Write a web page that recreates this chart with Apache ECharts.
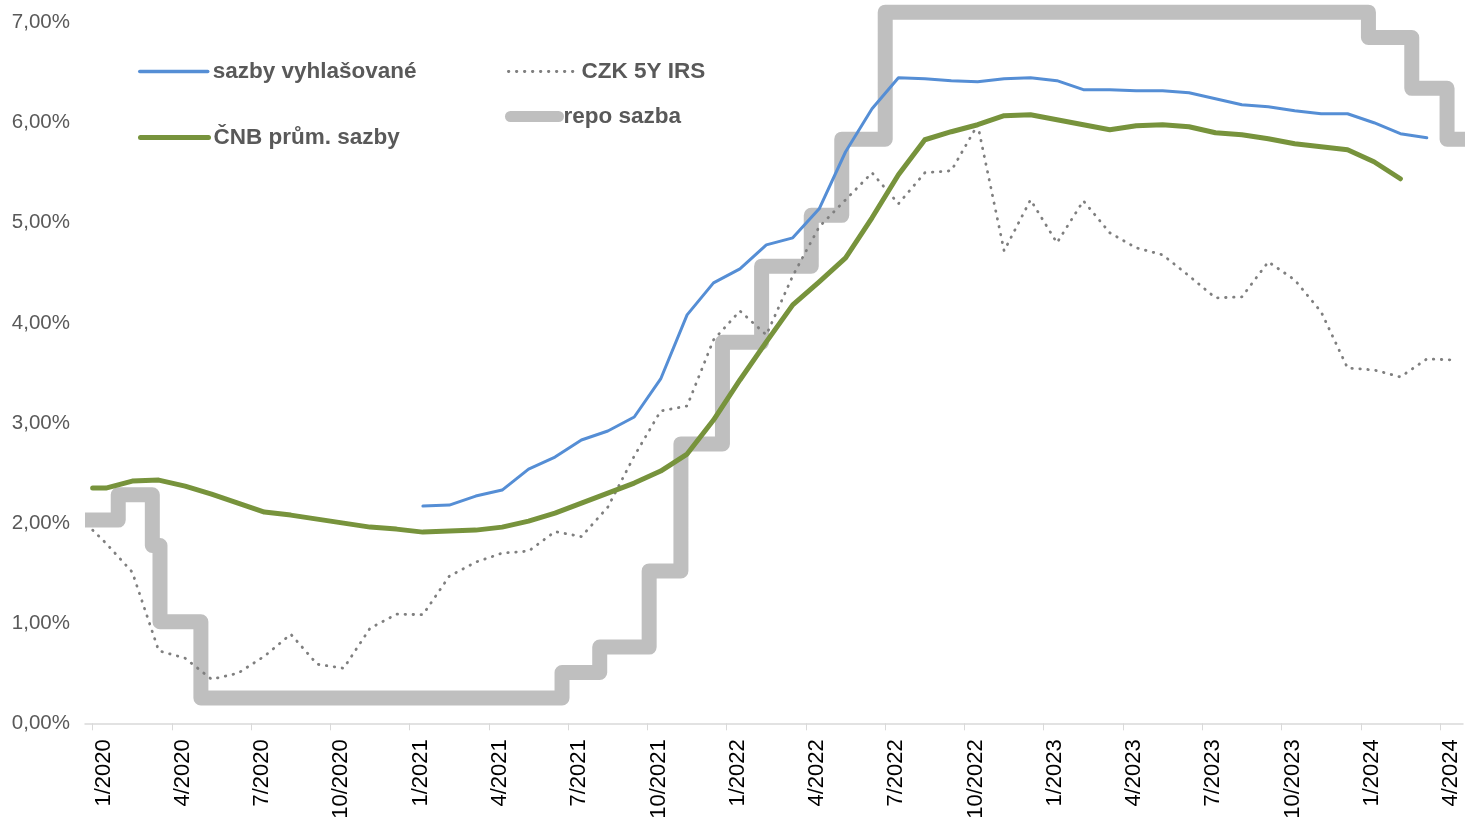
<!DOCTYPE html>
<html>
<head>
<meta charset="utf-8">
<script src="https://cdn.jsdelivr.net/npm/echarts@6/dist/echarts.min.js"></script>
<style>
  html, body { margin: 0; padding: 0; background: #fff; }
  #chartContainer { width: 1465px; height: 818px; }
</style>
</head>
<body>
<div id="chartContainer"></div>
<script>
// values in %, monthly series are mid-month observations
var irsFirstDay = 1.93; // 1.1.2020
var irsStart = '2020-01';
var irsMonthly = [1.80, 1.51, 0.725, 0.65, 0.44, 0.50, 0.67, 0.89, 0.59, 0.55, 0.95, 1.09,
  1.085, 1.47, 1.61, 1.70, 1.72, 1.915, 1.865, 2.16, 2.67, 3.12, 3.17, 3.83,
  4.12, 3.88, 4.47, 4.96, 5.23, 5.50, 5.19, 5.50, 5.52, 5.98, 4.72, 5.23,
  4.80, 5.22, 4.90, 4.75, 4.68, 4.47, 4.25, 4.26, 4.61, 4.43, 4.11, 3.55,
  3.53, 3.46, 3.64, 3.63];

var cnbFirstDay = 2.35; // 1.1.2020
var cnbStart = '2020-01';
var cnbMonthly = [2.35, 2.42, 2.43, 2.37, 2.29, 2.20, 2.11, 2.08, 2.04, 2.00, 1.96, 1.94,
  1.91, 1.92, 1.93, 1.96, 2.02, 2.10, 2.20, 2.30, 2.40, 2.52, 2.69, 3.03,
  3.43, 3.81, 4.18, 4.41, 4.65, 5.05, 5.48, 5.83, 5.91, 5.98, 6.07, 6.08,
  6.03, 5.98, 5.93, 5.97, 5.98, 5.96, 5.90, 5.88, 5.84, 5.79, 5.76, 5.73,
  5.61, 5.44];

var announcedStart = '2021-01';
var announcedMonthly = [2.17, 2.18, 2.27, 2.33, 2.54, 2.66, 2.83, 2.92, 3.06, 3.44, 4.08, 4.40,
  4.54, 4.78, 4.85, 5.14, 5.71, 6.14, 6.45, 6.44, 6.42, 6.41, 6.44, 6.45,
  6.42, 6.33, 6.33, 6.32, 6.32, 6.30, 6.24, 6.18, 6.16, 6.12, 6.09, 6.09,
  6.00, 5.89, 5.85];

// repo rate: date of change, new rate (first entry = start of the plotted range)
var repoDates = ['2019-12-23', '2020-01-31', '2020-03-09', '2020-03-18', '2020-05-04',
  '2021-06-24', '2021-08-07', '2021-10-03', '2021-11-09', '2021-12-27',
  '2022-02-10', '2022-04-07', '2022-05-12', '2022-07-01',
  '2024-01-10', '2024-02-28', '2024-04-09', '2024-05-31'];
var repoRates = [2.00, 2.25, 1.75, 1.00, 0.25,
  0.50, 0.75, 1.50, 2.75, 3.75,
  4.50, 5.00, 5.75, 7.00,
  6.75, 6.25, 5.75, 5.75];

var tickMonths = ['2020-01', '2020-04', '2020-07', '2020-10', '2021-01', '2021-04', '2021-07',
  '2021-10', '2022-01', '2022-04', '2022-07', '2022-10', '2023-01', '2023-04', '2023-07',
  '2023-10', '2024-01', '2024-04'];

var FONT = "'Liberation Sans', Arial, sans-serif";

// position on the x axis in months since 1/2020
function monthPos(s) {
  var p = s.split('-');
  var y = +p[0], mo = +p[1], d = p[2] ? +p[2] : 1;
  var dim = new Date(y, mo, 0).getDate();
  return (y - 2020) * 12 + (mo - 1) + (d - 1) / dim;
}

function monthlyData(start, values, firstDay) {
  var base = monthPos(start);
  var out = [];
  if (firstDay != null) out.push([base, firstDay]);
  values.forEach(function (v, i) { out.push([base + i + 0.5, v]); });
  return out;
}

var repoData = repoDates.map(function (d, i) { return [monthPos(d), repoRates[i]]; });
var tickPos = tickMonths.map(monthPos);

function legendBox(name, left, top, width, lineStyle) {
  return {
    data: [{ name: name, lineStyle: lineStyle }],
    left: left,
    top: top,
    orient: 'horizontal',
    padding: 0,
    itemWidth: width,
    itemHeight: 22,
    selectedMode: false,
    itemStyle: { opacity: 0 },
    textStyle: { fontSize: 22.5, fontWeight: 'bold', color: '#595959', fontFamily: FONT }
  };
}

var chart = echarts.init(document.getElementById('chartContainer'));

chart.setOption({
  animation: false,
  grid: { left: 85, right: 2, top: 2.6, bottom: 94.7, outerBoundsMode: 'none', containLabel: false },
  legend: [
    legendBox('sazby vyhlašované', 138, 60, 68, { width: 3.5, cap: 'round', color: '#558ED5' }),
    legendBox('ČNB prům. sazby', 138, 126, 68, { width: 5, cap: 'round', color: '#77933C' }),
    legendBox('CZK 5Y IRS', 507, 60, 68, { width: 2.8, type: [0.5, 7.5], cap: 'round', color: '#7F7F7F' }),
    legendBox('repo sazba', 505, 105, 48, { width: 11, cap: 'round', color: '#BFBFBF' })
  ],
  xAxis: {
    type: 'value',
    min: -0.29,
    max: 51.87,
    splitLine: { show: false },
    axisLine: { show: true, onZero: false, lineStyle: { color: '#D9D9D9', width: 1.5 } },
    axisTick: { show: true, length: 7, customValues: tickPos, lineStyle: { color: '#D9D9D9', width: 1 } },
    axisLabel: {
      customValues: tickPos,
      rotate: 90,
      margin: 16,
      verticalAlign: 'top',
      fontSize: 22,
      color: '#000',
      fontFamily: FONT,
      formatter: function (v) {
        var m = Math.round(v);
        return (((m % 12) + 12) % 12 + 1) + '/' + (2020 + Math.floor(m / 12));
      }
    }
  },
  yAxis: [{
    type: 'value',
    min: 0,
    max: 7.2,
    interval: 1,
    splitLine: { show: false },
    axisLine: { show: false },
    axisTick: { show: false },
    axisLabel: {
      margin: 15,
      fontSize: 20.5,
      color: '#595959',
      fontFamily: FONT,
      formatter: function (v) {
        return Math.abs(v - Math.round(v)) < 1e-6 ? v.toFixed(2).replace('.', ',') + '%' : '';
      }
    }
  }, {
    type: 'value',
    min: 0,
    max: 7.094,
    show: false
  }],
  series: [{
    name: 'repo sazba',
    type: 'line',
    yAxisIndex: 1,
    step: 'end',
    symbol: 'none',
    data: repoData,
    lineStyle: { color: '#BFBFBF', width: 15, join: 'round' },
    z: 1
  }, {
    name: 'CZK 5Y IRS',
    type: 'line',
    symbol: 'none',
    data: monthlyData(irsStart, irsMonthly, irsFirstDay),
    lineStyle: { color: '#7F7F7F', width: 2.8, type: [0.5, 7.5], cap: 'round' },
    z: 2
  }, {
    name: 'ČNB prům. sazby',
    type: 'line',
    symbol: 'none',
    data: monthlyData(cnbStart, cnbMonthly, cnbFirstDay),
    lineStyle: { color: '#77933C', width: 5, join: 'round', cap: 'round' },
    z: 3
  }, {
    name: 'sazby vyhlašované',
    type: 'line',
    symbol: 'none',
    data: monthlyData(announcedStart, announcedMonthly),
    lineStyle: { color: '#558ED5', width: 3, join: 'round', cap: 'round' },
    z: 4
  }]
});

window.addEventListener('resize', function () {
  chart.resize();
});
</script>
</body>
</html>
